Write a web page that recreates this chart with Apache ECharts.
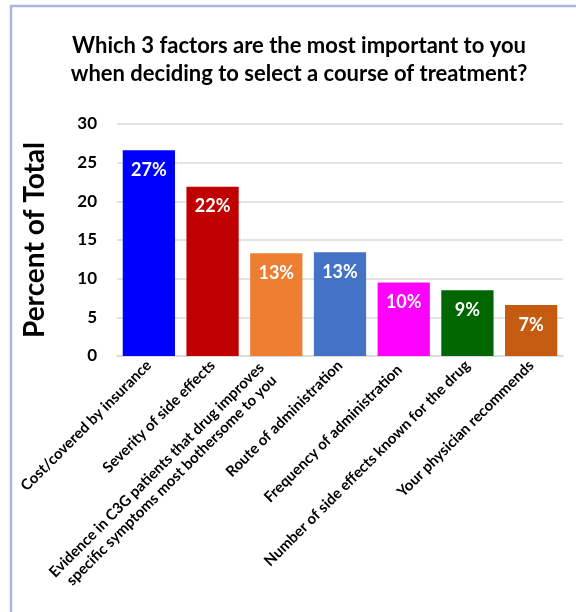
<!DOCTYPE html>
<html>
<head>
<meta charset="utf-8">
<script src="https://cdn.jsdelivr.net/npm/echarts@6/dist/echarts.min.js"></script>
<style>
  html, body { margin: 0; padding: 0; background: #ffffff; }
  #chart { width: 576px; height: 612px; }
</style>
</head>
<body>
<div id="chart"></div>
<script>
// Survey factors, share of respondents (percent of total)
const categories = [
  'Cost/covered by insurance',
  'Severity of side effects',
  'Evidence in C3G patients that drug improves\nspecific symptoms most bothersome to you',
  'Route of administration',
  'Frequency of administration',
  'Number of side effects known for the drug',
  'Your physician recommends'
];
const values = [26.6, 21.9, 13.3, 13.4, 9.5, 8.5, 6.6];
const barColors = ['#0000ff', '#c00000', '#ed7d31', '#4472c4', '#ff00ff', '#006600', '#c55a11'];
const yTicks = { min: 0, max: 30, interval: 5 };

const FONT = 'Lato';

// Per-label nudges so the long two-line label sits clear of the axis
const labelPadding = [null, null, [0, 12, 0, 0], null, [8, 6, 0, 0], null, null];

const chart = echarts.init(document.getElementById('chart'), null, { renderer: 'canvas' });

chart.setOption({
  backgroundColor: '#ffffff',
  animation: false,
  title: {
    text: 'Which 3 factors are the most important to you\nwhen deciding to select a course of treatment?',
    left: 294,
    top: 27,
    textAlign: 'center',
    textStyle: {
      fontFamily: FONT,
      fontWeight: 'bold',
      fontSize: 22,
      lineHeight: 28,
      color: '#000000'
    }
  },
  graphic: [{
    type: 'rect',
    shape: { x: 11, y: 6, width: 600, height: 640 },
    style: { fill: 'none', stroke: '#a9b6e0', lineWidth: 2.5 },
    silent: true
  }],
  grid: { left: 117, right: 13, top: 124, bottom: 256 },
  xAxis: {
    type: 'category',
    data: categories.map((c, i) => labelPadding[i]
      ? { value: c, textStyle: { padding: labelPadding[i] } }
      : c),
    axisLine: { lineStyle: { color: '#d9d9d9', width: 1.5 } },
    axisTick: { show: false },
    axisLabel: {
      interval: 0,
      rotate: 45,
      margin: 7,
      fontFamily: FONT,
      fontWeight: 'bold',
      fontSize: 15,
      lineHeight: 18,
      color: '#000000',
      align: 'right'
    }
  },
  yAxis: {
    type: 'value',
    min: yTicks.min,
    max: yTicks.max,
    interval: yTicks.interval,
    name: 'Percent of Total',
    nameLocation: 'middle',
    nameGap: 68,
    nameRotate: 90,
    nameTextStyle: {
      fontFamily: FONT,
      fontWeight: 'bold',
      fontSize: 28,
      color: '#000000'
    },
    axisLine: { show: false },
    axisTick: { show: false },
    axisLabel: {
      margin: 20,
      fontFamily: FONT,
      fontWeight: 'bold',
      fontSize: 17,
      color: '#000000'
    },
    splitLine: { lineStyle: { color: '#d9d9d9', width: 1.5 } }
  },
  series: [{
    type: 'bar',
    data: values.map((v, i) => ({ value: v, itemStyle: { color: barColors[i] } })),
    barCategoryGap: '18%',
    label: {
      show: true,
      position: 'insideTop',
      distance: 11,
      formatter: p => Math.round(p.value) + '%',
      fontFamily: FONT,
      fontWeight: 'bold',
      fontSize: 18,
      color: '#ffffff'
    }
  }]
});
</script>
</body>
</html>
